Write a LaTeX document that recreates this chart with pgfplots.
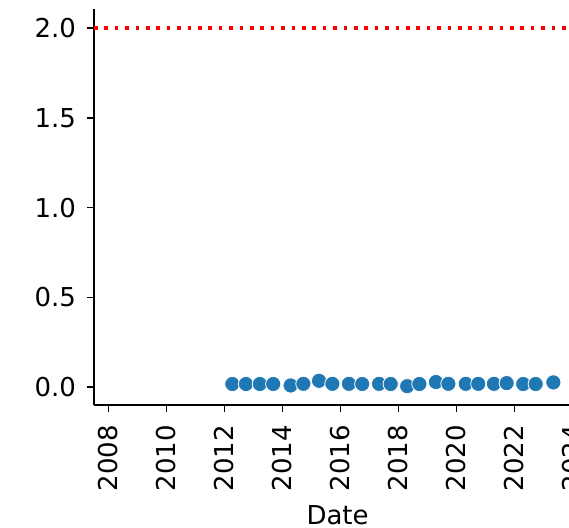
\documentclass[border=0pt]{standalone}
\usepackage{pgfplots}
\pgfplotsset{compat=1.18}
\usepackage{fontspec}
\setmainfont{DejaVu Sans}
\definecolor{c0}{HTML}{1F77B4}
\begin{document}
\fontsize{13}{15.5}\selectfont
\begin{tikzpicture}
\begin{axis}[
  scale only axis,
  width=243.6pt, height=197.9pt,
  xmin=2007.5, xmax=2024.3,
  ymin=-0.1, ymax=2.105,
  axis lines=left,
  axis line style={-, line width=0.8pt},
  tick align=outside,
  major tick length=3.5pt,
  tick style={line width=0.8pt, black},
  xtick={2008,2010,...,2024},
  ytick={0,0.5,1,1.5,2},
  /pgf/number format/assume math mode=true,
  xticklabel style={rotate=90, anchor=east, xshift=-2pt, /pgf/number format/1000 sep={}},
  yticklabel style={xshift=-1pt, /pgf/number format/fixed, /pgf/number format/precision=1, /pgf/number format/fixed zerofill},
  xlabel={Date},
  xlabel style={yshift=1.5pt},
  clip=false,
]
\addplot[red, line width=1.7pt, dash pattern=on 1.8pt off 3.4pt] coordinates {(2007.5,2) (2024.3,2)};
\addplot[only marks, mark=*, mark size=3.8pt, mark options={fill=c0, draw=white, line width=0.4pt}] coordinates {
(2012.27,0.017) (2012.74,0.017) (2013.22,0.017) (2013.68,0.017)
(2014.28,0.009) (2014.72,0.018) (2015.26,0.035) (2015.72,0.018)
(2016.29,0.018) (2016.75,0.017) (2017.33,0.018) (2017.73,0.017)
(2018.30,0.005) (2018.72,0.017) (2019.29,0.028) (2019.72,0.018)
(2020.32,0.018) (2020.75,0.018) (2021.29,0.018) (2021.73,0.022)
(2022.30,0.017) (2022.73,0.017) (2023.34,0.026)
};
\end{axis}
\pgfresetboundingbox
\useasboundingbox (-47pt,-61pt) rectangle (237.5pt,202.5pt);
\end{tikzpicture}
\end{document}
